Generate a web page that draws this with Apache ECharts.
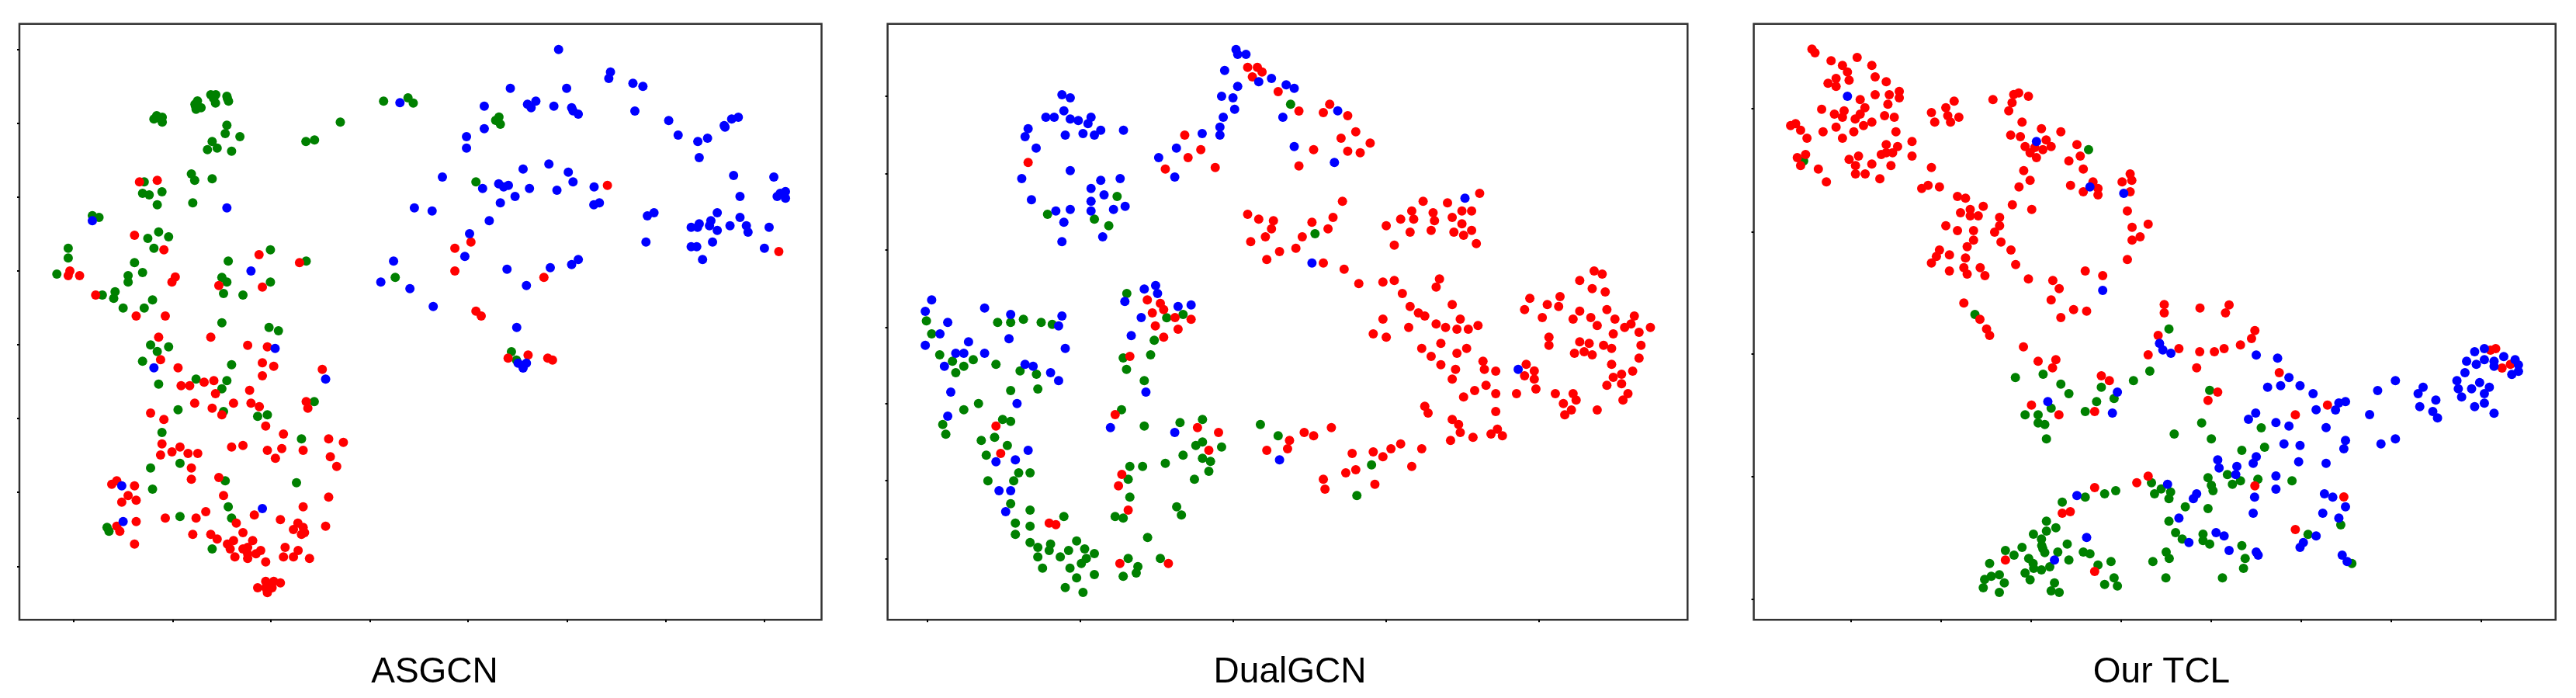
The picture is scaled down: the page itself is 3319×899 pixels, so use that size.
<!DOCTYPE html>
<html lang="en" style="background: #FFFFFF;height: 100%">
	<head>
		<meta charset="utf-8" />
		<title>t-SNE comparison</title>
		<script src="https://cdn.jsdelivr.net/npm/echarts@6/dist/echarts.min.js"></script>
		<style>
			html,body { margin: 0; padding: 0; height: 100%; background: #FFFFFF; overflow: hidden; }
			#chart { width: 3319px; height: 899px; }
		</style>
	</head>
	<body>
		<div id="chart"></div>
		<script>
			// panel names
			const panelNames = ['ASGCN', 'DualGCN', 'Our TCL'];

			// tick marks have no labels in the picture, only positions
			const asgcnXTicks = [266,622,977,1333,1688,2044,2400,2755];
			const asgcnYTicks = [130,417,700,987,1272,1555,1842,2130];
			const dualXTicks = [182,734,1285,1837,2388];
			const dualYTicks = [312,612,905,1205,1498,1797,2098];
			const tclXTicks = [378,703,1028,1352,1677,2002,2327,2652];
			const tclYTicks = [360,835,1308,1782,2256];

			// ASGCN
			const asgcnGreen = [[1383,331],[1471,318],[1490,338],[1227,412],[1103,487],[1134,481],[565,387],[585,393],[555,400],[580,400],[585,412],[712,330],[703,343],[725,356],[707,362],[705,350],[760,306],[778,306],[770,320],[777,338],[818,312],[820,320],[824,331],[818,424],[812,456],[865,468],[765,487],[783,512],[748,518],[835,524],[690,612],[702,637],[765,631],[520,643],[514,687],[538,693],[584,681],[567,731],[695,724],[333,773],[357,780],[572,836],[533,861],[608,855],[555,899],[246,899],[246,937],[205,999],[975,905],[823,949],[1104,949],[485,955],[514,993],[462,1005],[462,1030],[800,1012],[818,1030],[975,1030],[806,1074],[876,1080],[415,1067],[369,1080],[410,1093],[550,1099],[444,1130],[520,1130],[800,1187],[970,1205],[1004,1218],[1799,392],[1787,405],[1804,420],[1793,405],[1716,643],[1425,1012],[543,1273],[608,1280],[567,1298],[514,1336],[835,1349],[572,1424],[707,1405],[818,1411],[800,1442],[1133,1492],[642,1523],[806,1530],[929,1549],[964,1543],[584,1611],[1087,1636],[649,1730],[543,1748],[812,1798],[1069,1805],[550,1830],[823,1898],[649,1936],[835,1942],[386,1978],[393,1993],[765,2061],[1844,1299],[1862,1331]];
			const asgcnRed = [[503,643],[567,637],[485,849],[591,905],[934,924],[1080,955],[252,987],[246,1005],[287,1005],[632,1010],[620,1030],[789,1043],[946,1049],[345,1080],[491,1161],[596,1161],[2190,656],[1698,875],[1640,899],[1640,987],[1961,1012],[2808,912],[1716,1142],[1735,1161],[572,1243],[760,1243],[893,1274],[964,1280],[579,1330],[642,1361],[946,1342],[987,1355],[1162,1367],[946,1392],[653,1430],[684,1430],[736,1417],[771,1411],[900,1448],[777,1461],[702,1498],[842,1498],[905,1498],[935,1511],[1104,1492],[1110,1517],[765,1517],[800,1543],[543,1536],[591,1561],[958,1586],[1022,1617],[584,1655],[649,1667],[620,1686],[579,1698],[678,1692],[713,1692],[835,1667],[876,1661],[964,1680],[1016,1673],[1093,1680],[993,1711],[1185,1636],[1238,1649],[1191,1705],[1214,1742],[690,1748],[690,1792],[789,1785],[421,1798],[403,1811],[485,1817],[462,1855],[491,1873],[439,1880],[806,1855],[1185,1861],[1093,1898],[742,1917],[917,1930],[596,1942],[707,1942],[491,1955],[1011,1948],[852,1961],[421,1973],[432,1993],[1074,1961],[1093,1978],[1058,1986],[1098,1998],[1087,2005],[1174,1973],[695,2005],[760,2005],[783,2023],[876,1998],[842,2029],[911,2029],[820,2042],[830,2061],[485,2042],[893,2055],[876,2061],[940,2067],[1028,2055],[1075,2067],[893,2080],[923,2080],[847,2092],[893,2098],[1022,2092],[1058,2092],[1116,2098],[958,2111],[958,2186],[987,2186],[1011,2192],[929,2211],[964,2205],[981,2211],[964,2230],[958,2211],[1832,1324],[1904,1312],[1975,1324],[1992,1331]];
			const asgcnBlue = [[1442,337],[818,743],[333,793],[905,987],[1494,743],[1558,755],[1419,949],[1373,1030],[1478,1055],[1562,1124],[2014,131],[2201,218],[2195,243],[2282,262],[2318,274],[1840,281],[2043,281],[1746,350],[1902,343],[1932,331],[1915,356],[1997,350],[2061,356],[2066,368],[2085,381],[2289,369],[2411,406],[1746,437],[1682,468],[1682,512],[2445,462],[2516,487],[2551,474],[2611,425],[2614,431],[2638,400],[2662,393],[2521,549],[1979,574],[1886,593],[2049,605],[1595,624],[1798,650],[1816,662],[1833,656],[1740,668],[1909,668],[2066,643],[2008,675],[2142,662],[2645,618],[2790,624],[1857,699],[1804,724],[2141,731],[2161,724],[2668,699],[2832,680],[2813,687],[2802,699],[2832,706],[2358,762],[2334,774],[2586,762],[2668,780],[1764,793],[2563,793],[2521,805],[2558,812],[2492,818],[2515,818],[2586,830],[2632,812],[2691,812],[2697,837],[2773,818],[1693,843],[2329,875],[2569,875],[2492,893],[2512,893],[2756,899],[1676,931],[2085,943],[2061,962],[2533,943],[1984,974],[1828,980],[1898,1043],[1863,1205],[992,1286],[555,1361],[1174,1405],[439,1817],[444,1955],[946,1905],[1886,1362],[1868,1343],[1898,1343]];

			// DualGCN
			const dualGreen = [[1492,343],[866,699],[615,768],[784,787],[836,812],[1580,843],[901,1074],[178,1180],[435,1186],[482,1186],[528,1174],[592,1186],[632,1193],[197,1230],[226,1311],[272,1336],[347,1330],[313,1355],[284,1380],[429,1348],[516,1373],[575,1386],[482,1449],[580,1443],[366,1499],[313,1523],[237,1580],[248,1618],[453,1561],[482,1568],[424,1630],[376,1642],[470,1661],[394,1699],[511,1767],[552,1767],[493,1798],[400,1798],[482,1886],[552,1911],[499,1961],[552,1973],[674,1936],[499,2005],[552,2036],[580,2055],[626,2042],[621,2067],[720,2030],[749,2061],[691,2067],[784,2079],[580,2092],[661,2092],[755,2098],[737,2117],[597,2135],[696,2135],[784,2160],[720,2173],[679,2210],[743,2229],[1045,1168],[1104,1155],[1000,1255],[987,1311],[888,1323],[900,1367],[964,1411],[882,1523],[964,1586],[1093,1573],[1174,1561],[1150,1661],[1174,1648],[1243,1667],[1104,1699],[1174,1711],[1203,1723],[1197,1761],[1040,1730],[912,1742],[958,1742],[906,1792],[1145,1792],[912,1861],[1081,1898],[1098,1930],[859,1936],[888,1942],[976,2017],[906,2098],[1022,2098],[941,2129],[935,2154],[888,2167],[1383,1580],[1447,1624],[1784,1736],[1731,1855]];
			const dualRed = [[1337,200],[1372,200],[1389,218],[1354,237],[1447,294],[1522,369],[1110,462],[1168,518],[1122,549],[1040,593],[1220,587],[545,568],[1522,581],[1337,768],[1377,787],[1430,793],[1423,824],[1401,855],[1348,874],[1534,855],[1511,899],[1452,912],[1406,943],[975,1099],[1022,1112],[1034,1136],[993,1149],[1075,1167],[1133,1174],[1004,1199],[1086,1212],[1034,1243],[912,1317],[859,1542],[1156,1592],[1232,1611],[429,1586],[446,1692],[883,1773],[871,1817],[906,1911],[1197,1680],[1406,1680],[1488,1642],[1481,1674],[1541,1611],[621,1961],[645,1967],[876,2117],[1051,2117],[1633,343],[1610,375],[1698,387],[1727,449],[1674,474],[1779,493],[1575,518],[1698,524],[1743,530],[1679,718],[1645,780],[1569,799],[1627,824],[1610,956],[1685,980],[1738,1036],[1825,1030],[1866,1024],[1895,1074],[1923,1124],[1953,1149],[1976,1161],[2029,1018],[2017,1049],[2075,1117],[1825,1173],[1918,1205],[2017,1192],[2051,1205],[2092,1212],[2133,1212],[2168,1198],[2104,1173],[1790,1230],[1837,1243],[1970,718],[2058,724],[2174,687],[1929,755],[2006,762],[2110,755],[2145,755],[1889,787],[1936,787],[2011,793],[2075,780],[2110,805],[1837,812],[1923,837],[1999,830],[2081,837],[2116,849],[2145,830],[1866,887],[2162,881],[2587,987],[2616,999],[2535,1024],[2580,1055],[2627,1068],[2355,1093],[2464,1086],[2418,1117],[2459,1124],[2336,1136],[2535,1142],[2633,1136],[2400,1167],[2511,1173],[2575,1167],[2662,1173],[2732,1161],[2598,1198],[2720,1192],[2697,1205],[2790,1205],[2749,1224],[2656,1230],[2424,1243],[2535,1261],[2569,1267],[2424,1274],[2621,1274],[2756,1274],[2650,1286],[2551,1299],[2516,1305],[2580,1311],[2749,1324],[2034,1267],[1965,1286],[2127,1286],[2092,1305],[1999,1317],[2034,1349],[2087,1367],[2075,1405],[2186,1336],[2191,1367],[2232,1374],[2342,1348],[2371,1373],[2336,1392],[2371,1405],[2650,1348],[2726,1374],[2686,1386],[2656,1398],[2686,1423],[2633,1429],[2197,1429],[2156,1449],[2116,1474],[2232,1461],[2307,1461],[2377,1443],[2447,1461],[2511,1461],[2522,1486],[2709,1461],[2691,1486],[2476,1499],[2505,1524],[2598,1524],[2481,1543],[2232,1530],[1976,1510],[1988,1536],[2075,1561],[2098,1580],[2104,1611],[2238,1598],[2215,1617],[2256,1624],[2150,1630],[2069,1642],[1639,1592],[1575,1624],[1889,1655],[1965,1674],[1854,1674],[1790,1686],[1714,1692],[1825,1705],[1727,1755],[1691,1767],[1929,1742],[1610,1792],[1616,1830],[1796,1811]];
			const dualBlue = [[667,306],[697,318],[674,368],[609,393],[639,393],[697,400],[726,406],[772,393],[761,418],[807,443],[784,462],[743,456],[679,462],[889,443],[545,437],[534,468],[574,512],[697,599],[522,630],[807,637],[877,630],[772,668],[819,693],[557,712],[772,718],[895,737],[645,755],[697,749],[772,755],[853,749],[674,799],[814,855],[667,874],[1295,131],[1301,150],[1331,150],[1254,212],[1377,256],[1423,243],[1301,274],[1476,268],[1505,281],[1243,312],[1284,318],[1290,362],[1249,393],[1464,393],[1237,431],[1237,462],[1173,456],[1080,512],[1016,549],[1074,624],[1505,506],[1569,956],[1662,368],[1650,568],[2121,706],[2313,1367],[964,1057],[1005,1043],[1012,1074],[894,1105],[1086,1124],[1133,1118],[953,1167],[917,1237],[197,1099],[174,1143],[388,1130],[482,1155],[667,1161],[255,1186],[655,1199],[227,1230],[330,1261],[174,1274],[476,1249],[679,1286],[284,1305],[313,1305],[388,1305],[243,1355],[534,1348],[563,1355],[626,1380],[655,1411],[266,1455],[505,1499],[970,1455],[255,1548],[842,1592],[1074,1611],[545,1680],[429,1724],[499,1717],[440,1836],[482,1836],[464,1917],[1452,1717]];

			// Our TCL
			const tclGreen = [[207,562],[1235,518],[825,1155],[1525,1211],[1456,1374],[1397,1411],[971,1399],[1071,1386],[1135,1424],[1164,1461],[1281,1436],[1264,1492],[1327,1480],[1100,1517],[1006,1543],[1053,1543],[1053,1574],[1077,1580],[1083,1636],[1223,1530],[1672,1448],[1643,1574],[1544,1617],[1678,1636],[1788,1680],[1666,1786],[1736,1774],[1678,1815],[1684,1836],[1783,1798],[1754,1811],[1846,1792],[1462,1805],[1497,1829],[1531,1841],[1473,1848],[1525,1867],[1333,1836],[1293,1848],[1223,1861],[1140,1880],[1584,1898],[1666,1905],[1525,1954],[1083,1954],[1117,1979],[1083,1992],[1036,2004],[1065,2023],[1549,1998],[1573,2023],[1648,2004],[1648,2029],[1672,2042],[1788,2048],[1066,2048],[1158,2042],[995,2055],[935,2067],[966,2085],[1070,2060],[1077,2075],[1124,2073],[1216,2073],[1240,2080],[1515,2073],[1526,2098],[1800,2098],[1019,2098],[1164,2104],[1316,2110],[1467,2110],[878,2117],[1035,2117],[1269,2123],[1095,2130],[1037,2136],[1065,2142],[1794,2136],[1006,2154],[913,2161],[884,2167],[860,2179],[1024,2180],[1327,2173],[1514,2173],[1718,2173],[1112,2192],[931,2192],[1293,2198],[855,2211],[1339,2204],[1100,2223],[1129,2229],[913,2229],[1858,1593],[1870,1668],[1969,1798],[2145,1968],[2027,2005],[2185,2117]];
			const tclRed = [[237,130],[248,144],[306,175],[400,162],[347,193],[453,193],[365,218],[465,237],[324,243],[371,250],[505,256],[295,262],[324,274],[552,293],[552,318],[516,306],[465,306],[411,325],[511,343],[428,356],[272,362],[353,368],[318,381],[411,381],[347,393],[393,400],[499,387],[534,393],[453,412],[423,425],[178,418],[160,425],[196,443],[324,431],[277,449],[388,449],[540,449],[219,474],[347,474],[505,499],[598,487],[546,506],[528,530],[505,530],[487,537],[598,543],[405,543],[214,537],[184,549],[196,580],[371,556],[394,580],[453,574],[522,580],[260,593],[394,612],[429,612],[482,631],[289,643],[750,331],[720,356],[668,375],[727,387],[767,393],[737,412],[680,412],[890,325],[983,299],[965,305],[1018,312],[959,337],[947,368],[995,412],[1065,437],[1135,449],[954,462],[989,468],[1082,481],[1193,499],[1100,506],[1006,506],[1041,510],[1070,518],[1024,530],[1047,549],[1205,543],[1164,562],[1216,593],[668,587],[1001,599],[1024,637],[984,662],[656,656],[633,668],[697,662],[1170,656],[1251,643],[1269,668],[1216,681],[1269,693],[1385,612],[1391,637],[1356,643],[1385,681],[762,699],[791,706],[855,737],[960,731],[1030,749],[808,749],[773,762],[808,774],[837,774],[914,780],[1375,755],[720,812],[914,812],[762,831],[820,831],[896,837],[1392,818],[1450,806],[820,868],[1421,855],[1392,868],[797,893],[919,875],[697,906],[686,931],[733,925],[955,906],[791,937],[668,956],[1375,943],[785,974],[844,974],[733,987],[972,962],[797,999],[861,1005],[1018,1018],[1106,1024],[1223,987],[1286,1005],[1129,1055],[1100,1099],[785,1111],[1181,1136],[1228,1142],[1135,1167],[843,1174],[867,1211],[878,1236],[1508,1117],[1508,1149],[1486,1236],[1561,1287],[1636,1299],[1689,1299],[1724,1287],[1783,1273],[1823,1248],[1835,1217],[1450,1311],[1625,1361],[1000,1280],[1053,1336],[1117,1330],[1105,1361],[1281,1392],[1310,1411],[1029,1505],[1128,1543],[1257,1530],[1701,1455],[1666,1487],[1450,1780],[1409,1805],[1257,1824],[1140,1923],[1169,1917],[935,2104],[1257,2148],[1835,1817],[1637,1130],[1742,1118],[1729,1149],[1923,1380],[1981,1543],[2097,1505],[2156,1860],[1981,1986],[2704,1287],[2685,1293],[2757,1348],[2727,1362]];
			const tclBlue = [[365,312],[1047,487],[1240,662],[1362,687],[1286,1062],[1491,1267],[1503,1292],[1532,1305],[1339,1455],[1088,1492],[1321,1536],[1812,1560],[1838,1536],[1701,1717],[1706,1748],[1770,1742],[1766,1774],[1520,1811],[1625,1848],[1613,1867],[1193,1855],[1561,1942],[1829,1923],[1834,1861],[1695,1998],[1724,2011],[1597,2036],[1228,2017],[1742,2067],[1112,2104],[1840,1312],[1917,1324],[1958,1399],[1928,1430],[1881,1436],[1998,1430],[2045,1461],[2056,1523],[2126,1524],[2138,1497],[2162,1492],[1911,1573],[1958,1586],[2092,1592],[1940,1655],[1998,1661],[2162,1642],[2156,1674],[1840,1705],[1829,1730],[1993,1724],[2092,1730],[1911,1779],[1911,1830],[1840,2073],[1847,2085],[2086,1848],[2116,1861],[2162,1898],[2080,1923],[2138,1942],[2056,2011],[2010,2036],[1998,2055],[2150,2085],[2168,2110],[2278,1449],[2342,1411],[2249,1542],[2290,1655],[2342,1636],[2442,1436],[2424,1461],[2488,1486],[2430,1511],[2477,1530],[2494,1555],[2628,1299],[2663,1287],[2599,1336],[2634,1348],[2663,1330],[2698,1336],[2698,1355],[2733,1318],[2774,1330],[2786,1350],[2786,1375],[2762,1387],[2593,1380],[2564,1411],[2569,1442],[2581,1474],[2617,1442],[2646,1418],[2681,1436],[2663,1461],[2663,1498],[2628,1511],[2698,1537]];

			const colors = { red: '#FF0000', green: '#008000', blue: '#0000FF' };

			// one entry per panel
			const panels = [
				{ left: 25, right: 1058.5, labelX: 555, xMin: 70, xMax: 2962, xTicks: asgcnXTicks, yTicks: asgcnYTicks, green: asgcnGreen, red: asgcnRed, blue: asgcnBlue },
				{ left: 1143.6, right: 2174.3, labelX: 1657, xMin: 38, xMax: 2924, xTicks: dualXTicks, yTicks: dualYTicks, green: dualGreen, red: dualRed, blue: dualBlue },
				{ left: 2259.6, right: 3292.7, labelX: 2780, xMin: 27, xMax: 2920, xTicks: tclXTicks, yTicks: tclYTicks, green: tclGreen, red: tclRed, blue: tclBlue }
			];

			const gridTop = 30.7;
			const gridBottom = 798.3;
			const grid = [], xAxis = [], yAxis = [], series = [], title = [];

			panels.forEach(function (p, i) {
				grid.push({
					left: p.left,
					top: gridTop,
					width: p.right - p.left,
					height: gridBottom - gridTop,
					show: true,
					backgroundColor: '#FFFFFF',
					borderColor: '#333333',
					borderWidth: 2.5,
					containLabel: false
				});
				xAxis.push({
					type: 'value', gridIndex: i, min: p.xMin, max: p.xMax,
					axisLine: { show: false },
					axisLabel: { show: false },
					splitLine: { show: false },
					axisTick: { show: true, customValues: p.xTicks, length: 3, lineStyle: { color: '#000000', width: 2 } }
				});
				yAxis.push({
					type: 'value', gridIndex: i, min: 32, max: 2335, inverse: true,
					axisLine: { show: false },
					axisLabel: { show: false },
					splitLine: { show: false },
					axisTick: { show: true, customValues: p.yTicks, length: 3, lineStyle: { color: '#000000', width: 2 } }
				});
				['green', 'red', 'blue'].forEach(function (c) {
					series.push({
						type: 'scatter',
						xAxisIndex: i,
						yAxisIndex: i,
						data: p[c],
						symbol: 'circle',
						symbolSize: 12,
						silent: true,
						itemStyle: { color: colors[c], opacity: 1 }
					});
				});
				title.push({
					text: panelNames[i],
					left: p.labelX,
					top: 838,
					textAlign: 'center',
					textStyle: { fontFamily: 'Liberation Sans', fontSize: 46, fontWeight: 'normal', color: '#000000' }
				});
			});

			const chart = echarts.init(document.getElementById('chart'), null, { renderer: 'canvas' });
			chart.setOption({
				animation: false,
				backgroundColor: '#FFFFFF',
				title: title,
				grid: grid,
				xAxis: xAxis,
				yAxis: yAxis,
				series: series
			});
		</script>
	</body>
</html>
